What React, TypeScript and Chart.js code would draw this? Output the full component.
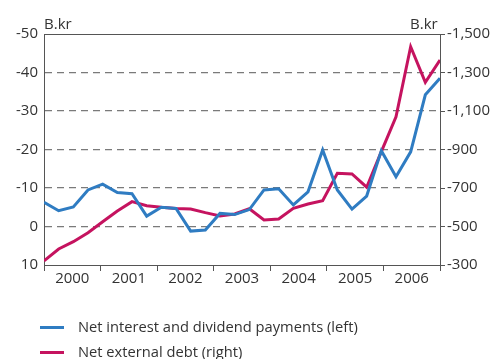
import React, { useEffect, useRef } from "react";
import { Chart, registerables } from "chart.js";

Chart.register(...registerables);

const yearLabels = ["2000", "2001", "2002", "2003", "2004", "2005", "2006"];
const netInterestPayments = [
  -6.3, -4.1, -5.1, -9.5, -11.0, -8.8, -8.5, -2.7, -5.0, -4.7, 1.2, 0.9, -3.4, -3.1,
  -4.4, -9.5, -9.8, -5.6, -9.0, -19.9, -9.5, -4.5, -7.9, -19.7, -12.9, -19.4, -34.2, -38.5,
];
const netExternalDebt = [
  -321, -383, -421, -468, -525, -580, -629, -608, -600, -594, -591, -572, -555, -565,
  -592, -534, -539, -594, -617, -634, -776, -773, -704, -889, -1070, -1434, -1249, -1365,
];
const leftRange = [-50, 10];
const leftStep = 10;
const rightRange = [-1500, -300];
const rightStep = 200;
const legendLabels = ["Net interest and dividend payments (left)", "Net external debt (right)"];

const BLUE = "#2f7cc2";
const RED = "#c5135f";
const TEXT = "#333333";
const AXIS = "#555555";
const FONT = "'Open Sans', sans-serif";

const framePlugin = {
  id: "frameTop",
  afterDatasetsDraw(chart: any) {
    const { ctx, chartArea } = chart;
    ctx.save();
    ctx.strokeStyle = AXIS;
    ctx.lineWidth = 1;
    ctx.beginPath();
    ctx.moveTo(chartArea.left, Math.round(chartArea.top) + 0.5);
    ctx.lineTo(chartArea.right, Math.round(chartArea.top) + 0.5);
    ctx.stroke();
    ctx.restore();
  },
};

export default function App() {
  const ref = useRef<HTMLCanvasElement | null>(null);

  useEffect(() => {
    if (!ref.current) return;
    const n = netInterestPayments.length;
    const span = n - 1;
    const yearWidth = span / yearLabels.length;
    const chart = new Chart(ref.current, {
      type: "line",
      data: {
        datasets: [
          {
            label: legendLabels[0],
            data: netInterestPayments.map((v, i) => ({ x: i, y: v })),
            borderColor: BLUE,
            borderWidth: 3,
            pointRadius: 0,
            tension: 0,
            yAxisID: "y",
          },
          {
            label: legendLabels[1],
            data: netExternalDebt.map((v, i) => ({ x: i, y: v })),
            borderColor: RED,
            borderWidth: 3,
            pointRadius: 0,
            tension: 0,
            yAxisID: "y1",
          },
        ],
      },
      options: {
        responsive: false,
        animation: false,
        devicePixelRatio: 1,
        layout: { padding: { top: 34, bottom: 64, left: 0, right: 0 } },
        plugins: { legend: { display: false }, tooltip: { enabled: false } },
        scales: {
          x: {
            type: "linear",
            min: 0,
            max: span,
            afterBuildTicks: (scale: any) => {
              const t: any[] = [];
              for (let k = 0; k <= yearLabels.length; k++) {
                t.push({ value: k * yearWidth });
                if (k < yearLabels.length) t.push({ value: (k + 0.5) * yearWidth });
              }
              scale.ticks = t;
            },
            afterFit: (scale: any) => {
              scale.height = 30;
            },
            grid: {
              drawOnChartArea: false,
              drawTicks: true,
              tickLength: 6,
              color: AXIS,
              tickColor: (ctx: any) => (ctx.index % 2 === 0 ? AXIS : "rgba(0,0,0,0)"),
            },
            border: { display: true, color: AXIS, width: 1 },
            ticks: {
              autoSkip: false,
              maxRotation: 0,
              padding: -1,
              color: TEXT,
              font: { family: FONT, size: 15 },
              callback: (_v: any, index: number) =>
                index % 2 === 1 ? yearLabels[(index - 1) / 2] : "",
            },
          },
          y: {
            position: "left",
            reverse: true,
            min: leftRange[0],
            max: leftRange[1],
            afterFit: (scale: any) => {
              scale.width = 44;
            },
            grid: {
              drawTicks: false,
              lineWidth: 1.3,
              color: (ctx: any) =>
                ctx.tick && (ctx.tick.value === leftRange[0] || ctx.tick.value === leftRange[1])
                  ? "rgba(0,0,0,0)"
                  : "#7a7a7a",
            },
            border: { display: true, color: AXIS, width: 1, dash: [7, 5] },
            ticks: {
              stepSize: leftStep,
              padding: 6,
              color: TEXT,
              font: { family: FONT, size: 15 },
            },
          },
          y1: {
            position: "right",
            reverse: true,
            min: rightRange[0],
            max: rightRange[1],
            afterFit: (scale: any) => {
              scale.width = 55;
            },
            grid: {
              drawOnChartArea: false,
              drawTicks: true,
              tickLength: 5,
              color: AXIS,
            },
            border: { display: true, color: AXIS, width: 1 },
            ticks: {
              stepSize: rightStep,
              padding: 2,
              color: TEXT,
              font: { family: FONT, size: 15 },
              callback: (v: any) => Number(v).toLocaleString("en-US"),
            },
          },
        },
      },
      plugins: [framePlugin],
    } as any);
    return () => chart.destroy();
  }, []);

  const textStyle: React.CSSProperties = {
    position: "absolute",
    fontFamily: FONT,
    color: TEXT,
    whiteSpace: "nowrap",
    lineHeight: "18px",
  };

  return (
    <div style={{ position: "absolute", left: 0, top: 0, width: 495, height: 359, overflow: "hidden", background: "#fff" }}>
      <canvas ref={ref} width={495} height={359} style={{ position: "absolute", left: 0, top: 0, width: 495, height: 359 }} />
      <span style={{ ...textStyle, left: 44, top: 14, fontSize: 15 }}>B.kr</span>
      <span style={{ ...textStyle, left: 410, top: 14, fontSize: 15 }}>B.kr</span>
      <div style={{ position: "absolute", left: 40, top: 326, width: 24, height: 3, background: BLUE }} />
      <span style={{ ...textStyle, left: 78, top: 317, fontSize: 14.7 }}>{legendLabels[0]}</span>
      <div style={{ position: "absolute", left: 40, top: 351, width: 24, height: 3, background: RED }} />
      <span style={{ ...textStyle, left: 78, top: 342, fontSize: 14.7 }}>{legendLabels[1]}</span>
    </div>
  );
}
